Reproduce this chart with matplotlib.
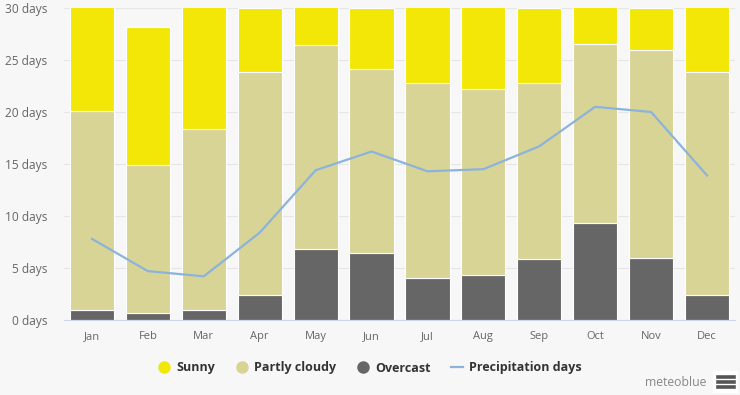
import numpy as np
import matplotlib
matplotlib.use('Agg')
import matplotlib.pyplot as plt
from matplotlib.lines import Line2D
from matplotlib.patches import Rectangle

months = ['Jan', 'Feb', 'Mar', 'Apr', 'May', 'Jun', 'Jul', 'Aug', 'Sep', 'Oct', 'Nov', 'Dec']
overcast = [1.0, 0.65, 1.0, 2.4, 6.8, 6.4, 4.0, 4.3, 5.9, 9.3, 6.0, 2.4]
partly_cloudy = [19.1, 14.3, 17.4, 21.4, 19.6, 17.7, 18.8, 17.9, 16.9, 17.2, 20.0, 21.4]
sunny = [10.9, 13.2, 12.6, 6.2, 4.6, 5.9, 8.2, 8.8, 7.2, 4.5, 4.0, 7.2]
precipitation = [7.8, 4.7, 4.2, 8.4, 14.4, 16.2, 14.3, 14.5, 16.7, 20.5, 20.0, 13.9]
yticks = [0, 5, 10, 15, 20, 25, 30]

c_sunny = '#f3e708'
c_partly = '#d8d496'
c_over = '#666666'
c_prec = '#8cb3dc'

plt.rcParams['font.family'] = ['Open Sans', 'DejaVu Sans']

fig = plt.figure(figsize=(7.4, 3.95), dpi=100, facecolor='#f7f7f7')
ax = fig.add_axes([64 / 740, 75 / 395, 671 / 740, 312 / 395])
ax.set_facecolor('#f7f7f7')

x = np.arange(len(months))
w = 0.79
over = np.array(overcast)
part = np.array(partly_cloudy)
sun = np.array(sunny)
ax.bar(x, over, w, color=c_over, edgecolor='white', linewidth=0.8, zorder=2)
ax.bar(x, part, w, bottom=over, color=c_partly, edgecolor='white', linewidth=0.8, zorder=2)
ax.bar(x, sun, w, bottom=over + part, color=c_sunny, edgecolor='white', linewidth=0.8, zorder=2)
ax.plot(x, precipitation, color=c_prec, linewidth=1.6, zorder=3)

ax.set_xlim(-0.5, 11.5)
ax.set_ylim(0, 30)
ax.set_yticks(yticks)
ax.set_yticklabels([f'{v} days' for v in yticks])
ax.set_xticks(x)
ax.set_xticklabels(months)
ax.grid(axis='y', color='#e6e6e6', linewidth=0.8, zorder=0)
for s in ['top', 'right', 'left']:
    ax.spines[s].set_visible(False)
ax.spines['bottom'].set_color('#ccd6eb')
ax.tick_params(axis='y', length=0, pad=12, labelsize=8.6, labelcolor='#666666')
ax.tick_params(axis='x', length=0, pad=8, labelsize=8, labelcolor='#666666')

handles = [
    Line2D([], [], marker='o', color='none', markerfacecolor=c_sunny, markeredgecolor='none', markersize=9),
    Line2D([], [], marker='o', color='none', markerfacecolor=c_partly, markeredgecolor='none', markersize=9),
    Line2D([], [], marker='o', color='none', markerfacecolor=c_over, markeredgecolor='none', markersize=9),
    Line2D([], [], color=c_prec, linewidth=1.6),
]
fig.legend(handles, ['Sunny', 'Partly cloudy', 'Overcast', 'Precipitation days'],
           loc='center', bbox_to_anchor=(0.5, 1 - 368 / 395), ncol=4, frameon=False,
           prop={'weight': 'bold', 'size': 9}, labelcolor='#333333',
           handlelength=1.0, handletextpad=0.5, columnspacing=1.6)

fig.text(706 / 740, 1 - 382 / 395, 'meteoblue', ha='right', va='center', fontsize=8.8, color='#888888')
fig.add_artist(Rectangle((713 / 740, 1 - 393 / 395), 25 / 740, 22 / 395,
                         transform=fig.transFigure, facecolor='white', edgecolor='none'))
for yy in [377, 382, 387]:
    fig.add_artist(Line2D([718 / 740, 734 / 740], [1 - yy / 395] * 2, color='#555555', linewidth=2.6))

fig.savefig('out.png', dpi=100, facecolor=fig.get_facecolor())
